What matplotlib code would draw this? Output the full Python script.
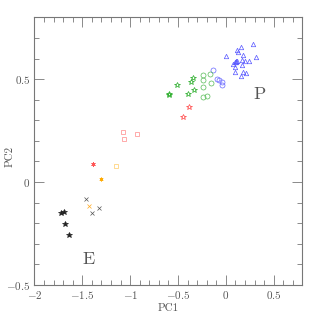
import matplotlib
matplotlib.use("Agg")
import matplotlib.pyplot as plt
from matplotlib.ticker import MultipleLocator, FuncFormatter

plt.rcParams['font.family'] = ['cmr10', 'DejaVu Serif']
plt.rcParams['mathtext.fontset'] = 'cm'
plt.rcParams['axes.formatter.use_mathtext'] = True

# data
tri_x = [0.285, 0.157, 0.115, 0.128, 0.174, 0.0, 0.310, 0.108, 0.091, 0.167, 0.202,
         0.237, 0.076, 0.170, 0.097, 0.091, 0.181, 0.209, 0.154, 0.120, 0.105]
tri_y = [0.673, 0.658, 0.641, 0.631, 0.619, 0.613, 0.607, 0.589, 0.583, 0.592, 0.587,
         0.589, 0.571, 0.568, 0.558, 0.535, 0.534, 0.529, 0.515, 0.590, 0.585]
bcirc_x = [-0.136, -0.097, -0.073, -0.045, -0.042]
bcirc_y = [0.542, 0.501, 0.497, 0.487, 0.469]
gcirc_x = [-0.243, -0.167, -0.240, -0.154, -0.240, -0.198, -0.243]
gcirc_y = [0.521, 0.527, 0.497, 0.482, 0.464, 0.420, 0.411]
gstar_x = [-0.345, -0.359, -0.509, -0.334, -0.394, -0.598, -0.592]
gstar_y = [0.503, 0.484, 0.469, 0.445, 0.429, 0.429, 0.422]
rstar_x = [-0.383, -0.449]
rstar_y = [0.366, 0.317]
psq_x = [-1.076, -1.065, -0.933]
psq_y = [0.241, 0.209, 0.231]
rast_x = [-1.386]
rast_y = [0.090]
ysq_x = [-1.152]
ysq_y = [0.078]
oast_x = [-1.309]
oast_y = [0.015]
gx_x = [-1.462, -1.399, -1.323]
gx_y = [-0.084, -0.149, -0.126]
ox_x = [-1.428]
ox_y = [-0.115]
kstar_x = [-1.723, -1.695, -1.678, -1.640]
kstar_y = [-0.150, -0.147, -0.202, -0.259]

fig = plt.figure(figsize=(3.19, 3.19), dpi=100)
ax = fig.add_axes([0.108, 0.1066, 0.840, 0.839])

lw = 0.5
ax.plot(tri_x, tri_y, ls='none', marker='^', ms=3.2, mfc='none', mec='#5555ff', mew=lw)
ax.plot(bcirc_x, bcirc_y, ls='none', marker='o', ms=3.6, mfc='none', mec='#6666ff', mew=lw)
ax.plot(gcirc_x, gcirc_y, ls='none', marker='o', ms=3.6, mfc='none', mec='#55bb55', mew=lw)
ax.plot(gstar_x, gstar_y, ls='none', marker='*', ms=4.2, mfc='none', mec='#22aa22', mew=lw)
ax.plot(rstar_x, rstar_y, ls='none', marker='*', ms=4.2, mfc='none', mec='#ff4444', mew=lw)
ax.plot(psq_x, psq_y, ls='none', marker='s', ms=3.2, mfc='none', mec='#ff8888', mew=lw)
ax.plot(rast_x, rast_y, ls='none', marker=(6, 2, 0), ms=3.2, mec='#ff5555', mew=lw)
ax.plot(ysq_x, ysq_y, ls='none', marker='s', ms=2.6, mfc='none', mec='#ffcc66', mew=lw)
ax.plot(oast_x, oast_y, ls='none', marker=(6, 2, 0), ms=2.8, mec='#ffaa00', mew=lw)
ax.plot(gx_x, gx_y, ls='none', marker='x', ms=2.8, mec='#555555', mew=lw)
ax.plot(ox_x, ox_y, ls='none', marker='x', ms=2.8, mec='#ffaa22', mew=lw)
ax.plot(kstar_x, kstar_y, ls='none', marker='*', ms=4.0, mfc='#222222', mec='#222222', mew=lw)

ax.text(-1.438, -0.373, 'E', fontsize=13, ha='center', va='center', color='#555555')
ax.text(0.355, 0.428, 'P', fontsize=13, ha='center', va='center', color='#555555')

fmt = FuncFormatter(lambda v, p: f"${v:g}$" if abs(v) > 1e-9 else "$0$")
ax.set_xlim(-2, 0.8)
ax.set_ylim(-0.5, 0.8)
ax.xaxis.set_major_locator(MultipleLocator(0.5))
ax.xaxis.set_minor_locator(MultipleLocator(0.1))
ax.yaxis.set_major_locator(MultipleLocator(0.5))
ax.yaxis.set_minor_locator(MultipleLocator(0.1))
ax.xaxis.set_major_formatter(fmt)
ax.yaxis.set_major_formatter(fmt)
ax.tick_params(which='both', direction='in', top=True, right=True, colors='#777777',
               labelcolor='#555555', labelsize=8, width=0.6)
ax.tick_params(which='major', length=7, pad=3)
ax.tick_params(which='minor', length=3.5)
for s in ax.spines.values():
    s.set_color('#777777')
    s.set_linewidth(0.8)

ax.set_xlabel('PC1', fontsize=8, color='#555555', labelpad=2)
ax.set_ylabel('PC2', fontsize=8, color='#555555')
ax.yaxis.set_label_coords(-0.075, 0.48)

fig.savefig('out.png', dpi=100)
